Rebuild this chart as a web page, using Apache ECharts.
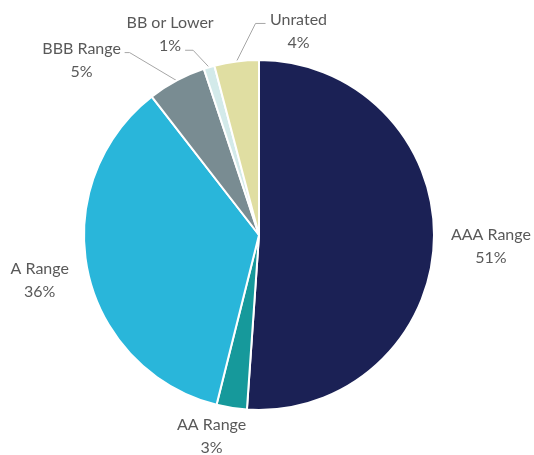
<!DOCTYPE html>
<html><head><meta charset="utf-8">
<script src="https://cdn.jsdelivr.net/npm/echarts@6/dist/echarts.min.js"></script>
<style>html,body{margin:0;padding:0;background:#fff}#c{width:534px;height:455px}</style>
</head><body><div id="c"></div>
<script>
const categories = ['AAA Range', 'AA Range', 'A Range', 'BBB Range', 'BB or Lower', 'Unrated'];
const values = [51.1, 2.8, 35.6, 5.4, 1.0, 4.1];
const colors = ['#1b2155', '#16999b', '#29b6da', '#798c92', '#d3eaea', '#e0dea2'];

// Label placement (style only): label centre offset from the slice's outer-edge point,
// and leader-line elbow / anchor relative to the label centre (null = no visible line).
const labelOffset = [[57, 5], [-20, 28], [-48, 9], [-95, -20], [-39, -33], [62, -30]];
const lineAnchor = [null, null, null, [[48, -8], [43, -8]], [[23, 16], [15, 16]], [[-43, -8], [-33, -8]]];

const data = categories.map((name, i) => ({
  name: name,
  value: values[i],
  itemStyle: {color: colors[i]},
  labelLine: {lineStyle: {opacity: lineAnchor[i] ? 1 : 0}}
}));

const chart = echarts.init(document.getElementById('c'), null, {renderer: 'canvas'});
chart.setOption({
  animation: false,
  series: [{
    type: 'pie',
    center: [259, 235],
    radius: 175,
    startAngle: 90,
    clockwise: true,
    avoidLabelOverlap: false,
    minShowLabelAngle: 0,
    percentPrecision: 0,
    itemStyle: {borderColor: '#ffffff', borderWidth: 2},
    label: {
      show: true,
      position: 'outside',
      formatter: '{t|{b}}\n{t|{d}%}',
      rich: {t: {align: 'center', fontFamily: 'Lato', fontSize: 16, color: '#595959', lineHeight: 23}}
    },
    labelLine: {show: true, length: 1, length2: 1, smooth: false, lineStyle: {color: '#a6a6a6', width: 1}},
    labelLayout: function (p) {
      const i = p.dataIndex;
      const pts = p.labelLinePoints;
      if (!pts) return {hideOverlap: false};
      const e = pts[0];
      const cx = e[0] + labelOffset[i][0];
      const cy = e[1] + labelOffset[i][1];
      const res = {hideOverlap: false, x: cx, y: cy, align: 'center', verticalAlign: 'middle'};
      const a = lineAnchor[i];
      if (a) {
        res.labelLinePoints = [e, [cx + a[0][0], cy + a[0][1]], [cx + a[1][0], cy + a[1][1]]];
      } else {
        res.labelLinePoints = [e, e, e];
      }
      return res;
    },
    emphasis: {disabled: true},
    data: data
  }]
});
</script></body></html>
